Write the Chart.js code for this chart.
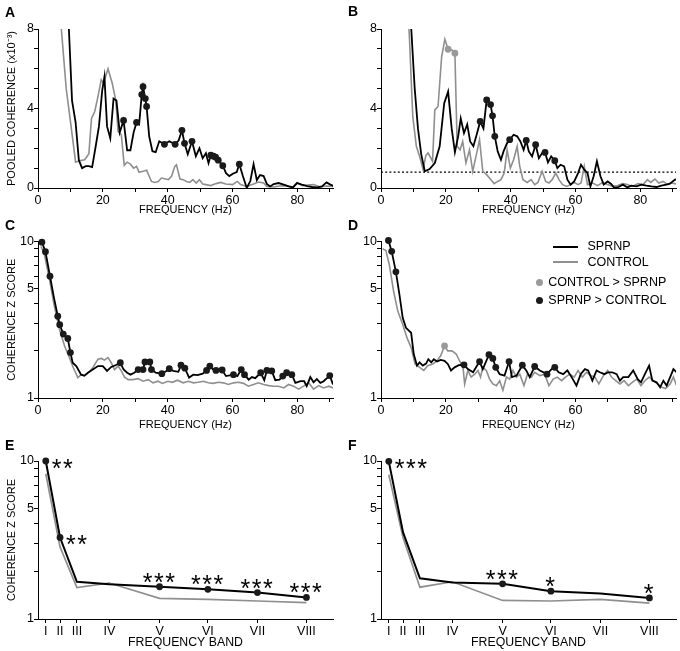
<!DOCTYPE html>
<html>
<head>
<meta charset="utf-8">
<script src="https://cdn.jsdelivr.net/npm/chart.js@4.4.1/dist/chart.umd.min.js"></script>
<style>
  body { margin: 0; width: 680px; height: 651px; position: relative; background: #fff; overflow: hidden;
         font-family: "Liberation Sans", Arial, Helvetica, sans-serif; color: #000; }
  canvas { position: absolute; }
  .lbl { position: absolute; font-size: 14px; font-weight: bold; line-height: 14px; }
  .leg { position: absolute; font-size: 12.5px; line-height: 15px; white-space: nowrap; }
  .legline { position: absolute; height: 1.8px; width: 25px; }
  .legdot { position: absolute; width: 7px; height: 7px; border-radius: 50%; }
</style>
</head>
<body>
<canvas id="cA" width="340" height="218" style="left:0;top:0"></canvas>
<canvas id="cB" width="340" height="218" style="left:340px;top:0"></canvas>
<canvas id="cC" width="340" height="218" style="left:0;top:218px"></canvas>
<canvas id="cD" width="340" height="218" style="left:340px;top:218px"></canvas>
<canvas id="cE" width="340" height="215" style="left:0;top:436px"></canvas>
<canvas id="cF" width="340" height="215" style="left:340px;top:436px"></canvas>

<div class="lbl" style="left:5px;top:4.7px">A</div>
<div class="lbl" style="left:348px;top:4px">B</div>
<div class="lbl" style="left:5px;top:218px">C</div>
<div class="lbl" style="left:348px;top:218px">D</div>
<div class="lbl" style="left:5px;top:438px">E</div>
<div class="lbl" style="left:348px;top:438px">F</div>

<div class="legline" style="left:553px;top:245.8px;background:#000"></div>
<div class="leg" style="left:587.5px;top:239.3px">SPRNP</div>
<div class="legline" style="left:553px;top:261.4px;background:#8f8f8f"></div>
<div class="leg" style="left:587.5px;top:255px">CONTROL</div>
<div class="legdot" style="left:535.8px;top:279.2px;background:#9a9a9a"></div>
<div class="leg" style="left:548.3px;top:275.3px">CONTROL &gt; SPRNP</div>
<div class="legdot" style="left:535.8px;top:296.5px;background:#1a1a1a"></div>
<div class="leg" style="left:548.3px;top:292.6px">SPRNP &gt; CONTROL</div>

<script>
// ---- axis ticks ----
const FREQ_TICKS = [0, 10, 20, 30, 40, 50, 60, 70, 80, 90];
const FREQ_LABELS = [0, 20, 40, 60, 80];
const LIN_TICKS = [0, 1, 2, 3, 4, 5, 6, 7, 8];
const LIN_LABELS = [0, 4, 8];
const LOG_TICKS = [1, 2, 3, 4, 5, 6, 7, 8, 9, 10];
const LOG_LABELS = [1, 5, 10];

// ---- A: pooled coherence, left ----
const aSprnpHz = [8.5, 9.5, 10.5, 11.6, 12.6, 13.6, 14.7, 15.7, 16.7, 17.8, 18.8, 19.8, 20.5, 21.3, 22.3, 23.3, 24.2, 25.2, 26.4, 27.5,
  28.5, 29.5, 30.4, 31.2, 32, 32.4, 33.1, 33.5, 34.3, 35.3, 36.3, 37.4, 39, 40.5, 42.3, 43.4, 44.4, 45.2, 46.2, 47.5,
  48.7, 49.8, 50.8, 51.8, 52.6, 53.3, 54.1, 54.8, 55.6, 57, 58, 59, 60.1, 61.3, 62.1, 63.2, 64.4, 65.5, 66.5, 67.5,
  68.5, 69.6, 70.6, 71.6, 72.7, 74.2, 75.8, 77.3, 78.7, 79.9, 81.4, 83, 84.6, 86.1, 87.6, 89, 90.2, 91.2];
const aSprnp = [12, 8.1, 4.4, 3.3, 1.4, 1.0, 1.1, 1.1, 1.05, 2.1, 3.1, 4.9, 5.6, 3.1, 2.5, 4.5, 4.4, 2.8, 3.4, 1.9,
  1.9, 2.8, 3.3, 3.2, 4.7, 5.1, 4.5, 4.1, 2.6, 1.85, 1.8, 2.35, 2.2, 2.35, 2.2, 2.4, 2.9, 2.25, 1.7, 2.35,
  1.6, 2.0, 1.5, 1.75, 1.25, 1.65, 1.6, 1.55, 1.4, 1.12, 0.75, 0.6, 0.72, 0.8, 1.2, 0.6, 0.0, 0.35, 1.2, 0.4,
  0.65, 0.6, 0.2, 0.08, 0.2, 0.25, 0.17, 0.08, 0.03, 0.25, 0.17, 0.1, 0.05, 0.03, 0.08, 0.28, 0.17, 0.1];
const aSprnpDots = [26.4, 30.4, 32, 32.4, 33.1, 33.5, 39, 42.3, 44.4, 45.2, 47.5, 53.3, 54.1, 54.8, 55.6, 57, 62.1];
const aControlHz = [6.5, 7.2, 8.7, 10.2, 11.6, 12.8, 14.4, 15.7, 16.5, 17.5, 18.5, 19.5, 20.2, 21.6, 22.9, 24, 24.7, 25.7, 26.6, 27.5,
  28.5, 29.5, 30.4, 31.2, 32.4, 33.5, 34.3, 35, 36, 37.1, 38.1, 39.1, 40.2, 41.2, 42.2, 42.7, 43.8, 44.8, 45.8, 46.8,
  47.8, 48.8, 49.8, 50.8, 51.8, 53.3, 54.9, 56.4, 57.9, 60, 61.5, 62.5, 64.4, 66.5, 68, 69.6, 70.6, 72.7, 74.5, 76.5,
  78.5, 80, 81.5, 83, 85, 87, 89, 91];
const aControl = [9.5, 8, 5.0, 3.1, 1.3, 1.37, 1.42, 1.72, 3.5, 3.85, 4.6, 5.44, 5.27, 6.0, 5.27, 4.4, 2.85, 2.68, 1.14, 1.3,
  1.2, 1.0, 1.09, 0.79, 0.84, 0.89, 0.59, 0.33, 0.28, 0.33, 0.5, 0.47, 0.42, 0.59, 1.09, 1.17, 0.45, 0.42, 0.33, 0.28,
  0.42, 0.25, 0.42, 0.2, 0.17, 0.12, 0.22, 0.28, 0.2, 0.17, 0.33, 0.17, 0.08, 0.2, 0.3, 0.25, 0.08, 0.05, 0.1, 0.12,
  0.05, 0.28, 0.12, 0.15, 0.17, 0.05, 0.1, 0.08];

// ---- B: pooled coherence, right ----
const bSprnpHz = [8.6, 9.3, 10.4, 11.4, 12.4, 13.5, 15, 16.6, 18.1, 19.5, 20.7, 21.8, 22.8, 23.8, 24.6, 25.6, 26.6, 27.5, 28.5, 29.5,
  30.6, 31.6, 32.6, 33.8, 34.4, 35.1, 36, 37, 37.8, 38.9, 39.7, 40.9, 42, 43, 44, 44.8, 45.6, 46.6, 47.7, 48.7,
  49.7, 50.6, 51.5, 52.5, 53.6, 54.4, 55.4, 56.5, 57.5, 58.5, 59.6, 60.8, 61.7, 62.7, 63.7, 64.6, 65.6, 66.6, 67.7, 68.7,
  69.9, 71, 72, 73.3, 74.6, 76, 77.2, 78.8, 80.3, 81.9, 83.4, 85, 86.5, 88, 89.1, 90.7, 91.7];
const bSprnp = [11, 8.1, 5.0, 3.0, 1.7, 0.84, 0.95, 1.26, 2.1, 4.27, 4.85, 3.0, 1.8, 2.6, 3.5, 2.76, 3.2, 2.34, 2.1, 2.68,
  3.35, 3.0, 4.43, 4.2, 3.63, 2.6, 1.84, 1.42, 1.84, 2.26, 2.43, 2.68, 2.6, 2.34, 1.92, 2.39, 1.84, 1.59, 2.18, 1.5,
  1.76, 1.79, 1.29, 1.59, 1.37, 1.0, 1.17, 1.09, 0.42, 0.17, 0.33, 0.75, 1.17, 0.92, 0.75, 0.08, 0.59, 1.34, 0.59, 0.17,
  0.33, 0.2, 0.0, 0.05, 0.17, 0.03, 0.12, 0.08, 0.17, 0.12, 0.08, 0.05, 0.12, 0.17, 0.22, 0.42, 0.45];
const bSprnpDots = [30.6, 32.6, 33.8, 34.4, 35.1, 39.7, 44.8, 47.7, 50.6, 53.6];
const bControlHz = [8, 8.8, 9.8, 10.9, 11.9, 13, 13.8, 14.5, 15.2, 15.9, 16.6, 17.6, 18.7, 19.7, 20.7, 21.8, 22.8, 23.5, 24.4, 25.2,
  26.2, 27.3, 28.3, 29.3, 30.4, 31.4, 32.6, 33.9, 34.9, 36, 37, 38, 38.9, 39.9, 40.9, 42, 42.8, 43.8, 45.1, 46.3,
  47.4, 48.4, 49.7, 50.8, 51.8, 52.8, 53.9, 54.9, 56, 57.3, 58.5, 59.6, 60.8, 61.7, 62.7, 63.7, 65.3, 66.8, 68.4, 69.9,
  71.5, 73, 74.6, 76, 77.5, 79.3, 80.8, 82.2, 83.2, 84.5, 85.7, 87, 88.4, 89.6, 91.2];
const bControl = [10, 7.45, 3.6, 2.1, 1.6, 0.92, 1.62, 1.76, 1.56, 1.34, 3.93, 4.1, 6.6, 7.48, 6.98, 6.95, 6.78, 2.1, 1.92, 2.34,
  1.26, 1.92, 0.84, 1.59, 2.43, 0.84, 0.67, 0.42, 0.22, 0.33, 0.42, 0.75, 1.92, 1.0, 1.42, 2.09, 1.09, 0.42, 0.28, 0.42,
  0.17, 0.28, 0.84, 0.33, 0.25, 0.42, 0.75, 0.42, 0.17, 0.08, 0.17, 0.28, 0.17, 0.25, 1.09, 0.17, 0.25, 0.12, 0.28, 0.17,
  0.08, 0.12, 0.22, 0.17, 0.08, 0.22, 0.17, 0.42, 0.28, 0.45, 0.25, 0.33, 0.17, 0.25, 0.2];
const bControlDots = [20.7, 22.8];
const bThreshold = 0.8;

// ---- C: z score, left ----
const cSprnpHz = [1.2, 2.3, 3.7, 4.9, 6.1, 6.7, 7.8, 9.2, 10, 10.7, 11.8, 13.3, 14.3, 15.4, 16.9, 18.5, 20, 21.3, 22.6, 23.9,
  25.4, 26.4, 27.5, 28.5, 29.7, 30.9, 31.8, 32.4, 33, 34.5, 35, 36.3, 38.2, 39.6, 40.5, 41.7, 43.3, 44.1, 45.3, 46.6,
  47.9, 49.2, 50.8, 52, 53, 54, 54.9, 55.8, 56.8, 58, 60.3, 61.5, 62.7, 63.7, 65, 66, 67, 68.7, 69.8, 70.6,
  71.4, 72.1, 73.2, 74.5, 75.5, 76.7, 77.5, 78.3, 79.4, 81, 82.1, 82.9, 84, 85, 86, 87.1, 88.1, 90, 91];
const cSprnp = [9.9, 8.6, 6.0, 4.4, 3.33, 2.94, 2.56, 2.4, 1.95, 1.68, 1.6, 1.41, 1.39, 1.45, 1.52, 1.6, 1.6, 1.49, 1.58, 1.62,
  1.68, 1.52, 1.45, 1.41, 1.45, 1.52, 1.5, 1.52, 1.7, 1.7, 1.52, 1.45, 1.43, 1.49, 1.54, 1.49, 1.47, 1.62, 1.55, 1.35,
  1.41, 1.4, 1.43, 1.5, 1.6, 1.52, 1.5, 1.52, 1.51, 1.38, 1.41, 1.38, 1.52, 1.41, 1.31, 1.36, 1.34, 1.45, 1.3, 1.5,
  1.5, 1.49, 1.3, 1.31, 1.38, 1.45, 1.43, 1.41, 1.25, 1.28, 1.28, 1.19, 1.36, 1.26, 1.32, 1.25, 1.28, 1.39, 1.22];
const cSprnpDots = [1.2, 2.3, 3.7, 6.1, 6.7, 7.8, 9.2, 10, 25.4, 30.9, 32.4, 33, 34.5, 35, 38.2, 40.5, 44.1, 45.3,
  52, 53, 54.9, 56.8, 60.3, 62.7, 63.7, 68.7, 70.6, 72.1, 75.5, 76.7, 78.3, 90];
const cControlHz = [0.9, 1.9, 3.5, 5, 6.6, 8.2, 9.7, 10.9, 12.3, 13.3, 14.3, 15.5, 16.9, 18.5, 19.5, 20.5, 21.6, 22.6, 23.6, 24.7,
  25.7, 26.7, 27.8, 29.3, 30.9, 32.4, 34, 35.5, 37, 38.4, 40, 41.5, 43, 44.8, 46.4, 47.9, 49.4, 51, 52.5, 54,
  55.6, 57.2, 58.7, 60.3, 61.8, 63.4, 64.9, 66.5, 68, 69.6, 71.2, 72.7, 74.2, 75.8, 77.3, 78.8, 80.4, 81.9, 83.5, 85,
  86.6, 88.1, 89.7, 91];
const cControl = [9.29, 8.41, 5.8, 3.9, 2.76, 2.15, 1.81, 1.56, 1.35, 1.41, 1.38, 1.45, 1.56, 1.77, 1.79, 1.75, 1.81, 1.68, 1.52, 1.6,
  1.49, 1.36, 1.31, 1.31, 1.33, 1.28, 1.31, 1.25, 1.28, 1.24, 1.28, 1.26, 1.3, 1.25, 1.28, 1.25, 1.26, 1.28, 1.25, 1.24,
  1.26, 1.25, 1.22, 1.25, 1.26, 1.24, 1.19, 1.22, 1.25, 1.22, 1.2, 1.19, 1.19, 1.16, 1.22, 1.19, 1.14, 1.19, 1.25, 1.14,
  1.2, 1.16, 1.19, 1.16];

// ---- D: z score, right ----
const dSprnpHz = [2.3, 3.3, 4.6, 5.7, 6.7, 7.7, 9.3, 10.1, 11.1, 11.9, 12.9, 13.9, 14.6, 15.5, 16.3, 17.3, 18.4, 19.6, 20.6, 21.6,
  22.7, 24, 25.6, 26.8, 28.4, 30.4, 31.4, 33.3, 34.5, 35.4, 36.6, 38.1, 39.5, 40.4, 41.8, 43.6, 44.8, 45.9, 47.4, 49,
  51.2, 52.6, 53.6, 54.8, 56.2, 57.5, 58.8, 60.3, 61.6, 62.9, 63.9, 65.2, 66.5, 67.5, 68.9, 70.1, 71.3, 72.7, 73.7, 74.7,
  76.3, 77.8, 79.2, 80.2, 81.4, 82.7, 83.7, 85, 86.1, 87.1, 88.1, 89.2, 90.2, 91.2];
const dSprnp = [10.15, 8.65, 6.4, 4.56, 3.25, 2.81, 2.61, 1.91, 1.61, 1.69, 1.61, 1.66, 1.77, 1.69, 1.77, 1.71, 1.75, 1.73, 1.65, 1.5,
  1.57, 1.62, 1.63, 1.53, 1.46, 1.71, 1.53, 1.89, 1.79, 1.57, 1.42, 1.39, 1.71, 1.36, 1.39, 1.62, 1.5, 1.36, 1.59, 1.5,
  1.42, 1.53, 1.57, 1.46, 1.42, 1.5, 1.36, 1.2, 1.42, 1.53, 1.5, 1.29, 1.5, 1.46, 1.42, 1.46, 1.46, 1.42, 1.29, 1.36,
  1.36, 1.5, 1.32, 1.26, 1.42, 1.61, 1.29, 1.26, 1.17, 1.29, 1.2, 1.36, 1.53, 1.46];
const dSprnpDots = [2.3, 3.3, 4.6, 25.6, 30.4, 33.3, 34.5, 35.4, 39.5, 43.6, 47.4, 51.2, 53.6];
const dControlHz = [0.5, 1.5, 2.6, 3.9, 5.2, 6.7, 8, 9.3, 10.5, 11.9, 13.2, 14.4, 16, 17.3, 18.4, 19.6, 20.6, 21.9, 23.2, 24.2,
  25.3, 25.8, 26.8, 27.8, 28.9, 29.9, 30.7, 31.4, 32.5, 33.5, 34.5, 35.6, 36.6, 37.6, 38.7, 39.7, 40.7, 41.8, 42.8, 44.1,
  45.2, 46.4, 47.4, 49, 50.5, 51.8, 53.1, 54.4, 55.7, 56.9, 58.2, 59.6, 60.8, 62.1, 63.4, 64.7, 66, 67.2, 68.6, 69.9,
  71.1, 72.4, 73.7, 75, 76.3, 77.5, 78.9, 80.2, 81.4, 82.7, 84, 85.3, 86.6, 87.8, 89.2, 90.2, 91.2];
const dControl = [8.99, 8.77, 7.05, 4.79, 3.58, 2.95, 2.43, 2.1, 1.65, 1.57, 1.5, 1.61, 1.65, 1.73, 1.86, 2.15, 2.0, 2.0, 1.91, 1.73,
  1.57, 1.23, 1.5, 1.36, 1.42, 1.5, 1.36, 1.57, 1.5, 1.32, 1.23, 1.2, 1.29, 1.12, 1.36, 1.32, 1.5, 1.36, 1.42, 1.2,
  1.42, 1.36, 1.46, 1.39, 1.42, 1.2, 1.32, 1.36, 1.29, 1.36, 1.42, 1.36, 1.5, 1.36, 1.46, 1.39, 1.36, 1.23, 1.39, 1.5,
  1.36, 1.29, 1.23, 1.29, 1.2, 1.26, 1.32, 1.2, 1.29, 1.36, 1.29, 1.23, 1.17, 1.15, 1.23, 1.36, 1.2];
const dControlDots = [19.6];

// ---- E / F: frequency bands ----
const bandPos = [2.4, 6.8, 12, 22, 37.5, 52.4, 67.7, 82.8];
const bandLabels = ['I', 'II', 'III', 'IV', 'V', 'VI', 'VII', 'VIII'];
const eSprnp = [10, 3.28, 1.72, 1.66, 1.6, 1.54, 1.47, 1.37];
const eControl = [8.3, 2.86, 1.58, 1.69, 1.35, 1.33, 1.3, 1.27];
const eStars = ['**', '**', '', '', '***', '***', '***', '***'];
const fSprnp = [9.95, 3.53, 1.81, 1.7, 1.67, 1.5, 1.45, 1.36];
const fControl = [8.2, 3.28, 1.59, 1.72, 1.31, 1.3, 1.33, 1.26];
const fStars = ['***', '', '', '', '***', '*', '', '*'];

// ---- look ----
const BLACK = '#000';
const GRAY = '#8f8f8f';
const DOT_BLACK = '#1a1a1a';
const DOT_GRAY = '#9a9a9a';
const FONT = '"Liberation Sans", Arial, Helvetica, sans-serif';

Chart.defaults.font.family = FONT;
Chart.defaults.color = '#000';
Chart.defaults.animation = false;

const COLS = [{ yw: 38, pr: 7 }, { yw: 41, pr: 4 }];
const ROWS = [
  { pt: 29, pb: 1.4, xh: 28.6 },
  { pt: 23.5, pb: 4.4, xh: 33.6 },
  { pt: 25, pb: 0.6, xh: 31.4 },
];

const GRID = { display: true, drawOnChartArea: false, drawTicks: true, tickLength: 4, color: '#000', lineWidth: 1 };
const BORDER = { display: true, color: '#000', width: 1 };

function lineSet(hz, vals, color, width) {
  return {
    data: hz.map((x, i) => ({ x, y: vals[i] })),
    showLine: true, borderColor: color, borderWidth: width,
    pointRadius: 0, pointHoverRadius: 0, tension: 0, fill: false,
  };
}

function dotSet(hz, vals, marks, color) {
  return {
    data: marks.map(f => ({ x: f, y: vals[hz.indexOf(f)] })),
    showLine: false, pointRadius: 3.4, pointHoverRadius: 3.4,
    pointBackgroundColor: color, pointBorderColor: color, pointBorderWidth: 0, clip: false,
  };
}

// significance asterisks over the band points
const starsPlugin = {
  id: 'stars',
  afterDatasetsDraw(chart, args, opts) {
    if (!opts.marks) return;
    const { ctx, scales: { x, y } } = chart;
    ctx.save();
    ctx.font = '25px ' + FONT;
    ctx.fillStyle = '#000';
    ctx.letterSpacing = '1.5px';
    opts.marks.forEach((m, i) => {
      if (!m) return;
      const px = x.getPixelForValue(opts.xs[i]);
      const py = y.getPixelForValue(opts.ys[i]);
      if (i < 2) {
        ctx.textAlign = 'left';
        ctx.fillText(m, px + 6, py + 16);
      } else {
        ctx.textAlign = 'center';
        ctx.fillText(m, px, py + 4);
      }
    });
    ctx.restore();
  },
};

function makeChart(id, col, row, opt) {
  const c = COLS[col], r = ROWS[row];
  const xAxis = {
    type: 'linear', min: 0, max: 91,
    afterBuildTicks: s => { s.ticks = opt.xTicks.map(v => ({ value: v })); },
    ticks: { autoSkip: false, maxRotation: 0, padding: 1, font: { size: 12.5 }, callback: opt.xLabel },
    grid: GRID, border: BORDER,
    title: { display: true, text: opt.xTitle, font: { size: opt.xTitleSize || 11 }, padding: 0 },
    afterFit: s => { s.height = r.xh; },
  };
  const yAxis = {
    type: opt.yType, min: opt.yMin, max: opt.yMax,
    afterBuildTicks: s => { s.ticks = opt.yTicks.map(v => ({ value: v })); },
    ticks: { autoSkip: false, padding: 0, font: { size: 12.5 },
      callback: v => opt.yLabels.includes(v) ? String(v) : '' },
    grid: GRID, border: BORDER,
    title: { display: !!opt.yTitle, text: opt.yTitle || '', font: { size: 11 }, padding: { top: 5, bottom: 0 } },
    afterFit: s => { s.width = c.yw; },
  };
  return new Chart(document.getElementById(id), {
    type: 'scatter',
    data: { datasets: opt.datasets },
    options: {
      responsive: false,
      animation: false,
      layout: { padding: { left: 0, right: c.pr, top: r.pt, bottom: r.pb } },
      scales: { x: xAxis, y: yAxis },
      plugins: { legend: { display: false }, tooltip: { enabled: false }, stars: opt.stars || {} },
      events: [],
    },
    plugins: [starsPlugin],
  });
}

const freqLabel = v => FREQ_LABELS.includes(v) ? String(v) : '';
const bandLabel = (v, i) => bandLabels[i];

makeChart('cA', 0, 0, {
  xTicks: FREQ_TICKS, xLabel: freqLabel, xTitle: 'FREQUENCY (Hz)',
  yType: 'linear', yMin: 0, yMax: 8, yTicks: LIN_TICKS, yLabels: LIN_LABELS, yTitle: 'POOLED COHERENCE (x10\u207B\u00B3)',
  datasets: [
    dotSet(aSprnpHz, aSprnp, aSprnpDots, DOT_BLACK),
    lineSet(aSprnpHz, aSprnp, BLACK, 1.8),
    lineSet(aControlHz, aControl, GRAY, 1.6),
  ],
});

makeChart('cB', 1, 0, {
  xTicks: FREQ_TICKS, xLabel: freqLabel, xTitle: 'FREQUENCY (Hz)',
  yType: 'linear', yMin: 0, yMax: 8, yTicks: LIN_TICKS, yLabels: LIN_LABELS,
  datasets: [
    dotSet(bSprnpHz, bSprnp, bSprnpDots, DOT_BLACK),
    dotSet(bControlHz, bControl, bControlDots, DOT_GRAY),
    lineSet(bSprnpHz, bSprnp, BLACK, 1.8),
    lineSet(bControlHz, bControl, GRAY, 1.6),
    Object.assign(lineSet([0, 91], [bThreshold, bThreshold], BLACK, 1.3), { borderDash: [2, 2.2] }),
  ],
});

makeChart('cC', 0, 1, {
  xTicks: FREQ_TICKS, xLabel: freqLabel, xTitle: 'FREQUENCY (Hz)',
  yType: 'logarithmic', yMin: 1, yMax: 10, yTicks: LOG_TICKS, yLabels: LOG_LABELS, yTitle: 'COHERENCE Z SCORE',
  datasets: [
    dotSet(cSprnpHz, cSprnp, cSprnpDots, DOT_BLACK),
    lineSet(cSprnpHz, cSprnp, BLACK, 1.8),
    lineSet(cControlHz, cControl, GRAY, 1.6),
  ],
});

makeChart('cD', 1, 1, {
  xTicks: FREQ_TICKS, xLabel: freqLabel, xTitle: 'FREQUENCY (Hz)',
  yType: 'logarithmic', yMin: 1, yMax: 10, yTicks: LOG_TICKS, yLabels: LOG_LABELS,
  datasets: [
    dotSet(dSprnpHz, dSprnp, dSprnpDots, DOT_BLACK),
    dotSet(dControlHz, dControl, dControlDots, DOT_GRAY),
    lineSet(dSprnpHz, dSprnp, BLACK, 1.8),
    lineSet(dControlHz, dControl, GRAY, 1.6),
  ],
});

function bandDots(vals, stars) {
  return dotSet(bandPos, vals, bandPos.filter((p, i) => stars[i]), DOT_BLACK);
}

makeChart('cE', 0, 2, {
  xTicks: bandPos, xLabel: bandLabel, xTitle: 'FREQUENCY BAND', xTitleSize: 12.3,
  yType: 'logarithmic', yMin: 1, yMax: 10, yTicks: LOG_TICKS, yLabels: LOG_LABELS, yTitle: 'COHERENCE Z SCORE',
  stars: { marks: eStars, xs: bandPos, ys: eSprnp },
  datasets: [
    bandDots(eSprnp, eStars),
    lineSet(bandPos, eSprnp, BLACK, 2),
    lineSet(bandPos, eControl, GRAY, 1.7),
  ],
});

makeChart('cF', 1, 2, {
  xTicks: bandPos, xLabel: bandLabel, xTitle: 'FREQUENCY BAND', xTitleSize: 12.3,
  yType: 'logarithmic', yMin: 1, yMax: 10, yTicks: LOG_TICKS, yLabels: LOG_LABELS,
  stars: { marks: fStars, xs: bandPos, ys: fSprnp },
  datasets: [
    bandDots(fSprnp, fStars),
    lineSet(bandPos, fSprnp, BLACK, 2),
    lineSet(bandPos, fControl, GRAY, 1.7),
  ],
});
</script>
</body>
</html>
